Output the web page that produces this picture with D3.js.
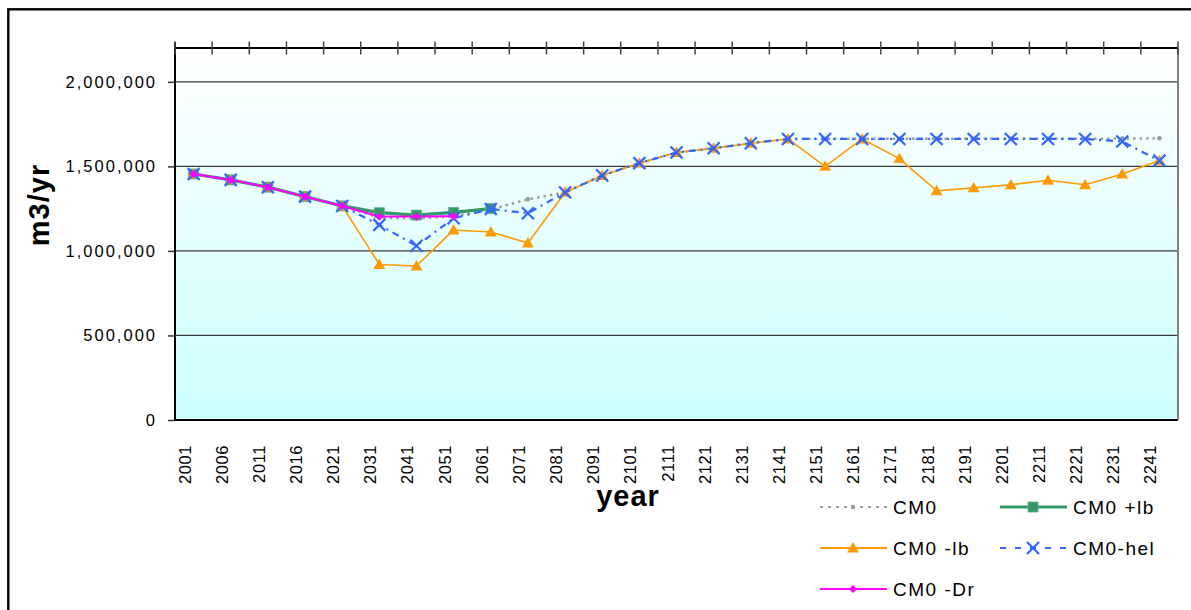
<!DOCTYPE html>
<html>
<head>
<meta charset="utf-8">
<script src="https://cdn.jsdelivr.net/npm/d3@7"></script>
<style>
    html, body { margin: 0; padding: 0; background: #ffffff; }
    #chart-flow { width: 1191px; height: 610px; overflow: hidden; }
    text { font-family: "Liberation Sans", Arial, sans-serif; fill: #000; }
</style>
</head>
<body>
<div id="chart-flow"></div>
<script>
(function () {

    var YEARS = ["2001", "2006", "2011", "2016", "2021", "2031", "2041", "2051", "2061",
                 "2071", "2081", "2091", "2101", "2111", "2121", "2131", "2141", "2151",
                 "2161", "2171", "2181", "2191", "2201", "2211", "2221", "2231", "2241"];

    var Y_TICKS = [0, 500000, 1000000, 1500000, 2000000];

    var CM0 = [1455000, 1420000, 1377000, 1321000, 1266000, 1197000, 1192000, 1205000, 1245000,
               1305000, 1346000, 1446000, 1519000, 1582000, 1607000, 1637000, 1662000, 1663000,
               1663000, 1663000, 1663000, 1663000, 1663000, 1663000, 1663000, 1664000, 1666000];

    var CM0_PLUS_LB = [1455000, 1420000, 1377000, 1321000, 1266000, 1226000, 1212000, 1228000, 1250000,
                       null, null, null, null, null, null, null, null, null,
                       null, null, null, null, null, null, null, null, null];

    var CM0_MINUS_LB = [1455000, 1420000, 1377000, 1321000, 1266000, 920000, 911000, 1124000, 1112000,
                        1047000, 1346000, 1446000, 1519000, 1582000, 1607000, 1637000, 1662000, 1500000,
                        1662000, 1546000, 1356000, 1373000, 1391000, 1418000, 1391000, 1455000, 1534000];

    var CM0_HEL = [1455000, 1420000, 1377000, 1321000, 1266000, 1154000, 1030000, 1193000, 1248000,
                   1223000, 1346000, 1446000, 1519000, 1582000, 1607000, 1637000, 1662000, 1662000,
                   1662000, 1662000, 1662000, 1662000, 1662000, 1662000, 1662000, 1647000, 1534000];

    var CM0_DR = [1455000, 1420000, 1377000, 1321000, 1266000, 1203000, 1203000, 1205000, null,
                  null, null, null, null, null, null, null, null, null,
                  null, null, null, null, null, null, null, null, null];

    // drawing order = Excel series order (last on top)
    var SERIES = [
        { name: "CM0",     values: CM0,          color: "#999999", width: 2.4, dash: "2.5,4",   marker: "dot"      },
        { name: "CM0 +lb", values: CM0_PLUS_LB,  color: "#339966", width: 3.2, dash: null,      marker: "square"   },
        { name: "CM0 -lb", values: CM0_MINUS_LB, color: "#FF9900", width: 1.6, dash: null,      marker: "triangle" },
        { name: "CM0-hel", values: CM0_HEL,      color: "#3366FF", width: 2.2, dash: "7,5,2,5", marker: "x"        },
        { name: "CM0 -Dr", values: CM0_DR,       color: "#FF00FF", width: 2,   dash: null,      marker: "diamond"  }
    ];

    var W = 1191, H = 610;
    var plot = { left: 175, right: 1178, top: 48, bottom: 420 };

    var svg = d3.select("#chart-flow")
        .append("svg")
        .attr("width", W)
        .attr("height", H);

    /* ── background + frame ───────────────────────────────────────── */
    var grad = svg.append("defs").append("linearGradient")
        .attr("id", "plot-bg")
        .attr("x1", 0).attr("y1", 0).attr("x2", 0).attr("y2", 1);
    grad.append("stop").attr("offset", "0%").attr("stop-color", "#ffffff");
    grad.append("stop").attr("offset", "100%").attr("stop-color", "#ccffff");

    // outer chart border (cut off on the right and bottom)
    svg.append("rect")
        .attr("x", 8.3).attr("y", 9.3)
        .attr("width", W + 20).attr("height", H + 20)
        .attr("fill", "none")
        .attr("stroke", "#000")
        .attr("stroke-width", 2.4);

    svg.append("rect")
        .attr("x", plot.left).attr("y", plot.top)
        .attr("width", plot.right - plot.left)
        .attr("height", plot.bottom - plot.top)
        .attr("fill", "url(#plot-bg)");

    /* ── scales ───────────────────────────────────────────────────── */
    var x = d3.scaleBand()
        .domain(YEARS)
        .range([plot.left, plot.right])
        .padding(0);

    var y = d3.scaleLinear()
        .domain([0, 2200000])
        .range([plot.bottom, plot.top]);

    function cx(i) { return x(YEARS[i]) + x.bandwidth() / 2; }

    /* ── gridlines ────────────────────────────────────────────────── */
    svg.append("g")
        .selectAll("line")
        .data(Y_TICKS)
        .enter()
        .append("line")
        .attr("x1", plot.left).attr("x2", plot.right)
        .attr("y1", function (d) { return y(d); })
        .attr("y2", function (d) { return y(d); })
        .attr("stroke", function (d) { return d === 0 ? "#000" : "#3a3a3a"; })
        .attr("stroke-width", function (d) { return d === 0 ? 2 : 1.2; });

    // right border of the plot area
    svg.append("line")
        .attr("x1", plot.right).attr("x2", plot.right)
        .attr("y1", plot.top).attr("y2", plot.bottom)
        .attr("stroke", "#808080")
        .attr("stroke-width", 2);

    /* ── y axis ───────────────────────────────────────────────────── */
    var yAxis = svg.append("g")
        .attr("class", "axis axis-y")
        .attr("transform", "translate(" + plot.left + ",0)")
        .call(d3.axisLeft(y)
            .tickValues(Y_TICKS)
            .tickSize(7)
            .tickPadding(11)
            .tickFormat(d3.format(",")));

    yAxis.select(".domain")
        .attr("d", "M0," + (plot.top - 6) + "V" + plot.bottom)
        .attr("stroke", "#000")
        .attr("stroke-width", 2);
    yAxis.selectAll(".tick line")
        .attr("stroke", "#333")
        .attr("stroke-width", 1.5);
    yAxis.selectAll(".tick text")
        .style("font-size", "16.5px")
        .style("letter-spacing", "2px")
        .attr("fill", "#111");

    /* ── category axis (line + crossing ticks at the top) ─────────── */
    var edges = YEARS.map(function (c) { return x(c); }).concat([x.range()[1]]);

    svg.append("line")
        .attr("x1", plot.left).attr("x2", plot.right)
        .attr("y1", plot.top).attr("y2", plot.top)
        .attr("stroke", "#000")
        .attr("stroke-width", 2);

    svg.append("g")
        .selectAll("line")
        .data(edges)
        .enter()
        .append("line")
        .attr("x1", function (d) { return d; })
        .attr("x2", function (d) { return d; })
        .attr("y1", plot.top - 6.5)
        .attr("y2", plot.top + 6.5)
        .attr("stroke", "#444")
        .attr("stroke-width", 1.5);

    // tick labels sit below the plot, rotated
    var xAxis = svg.append("g")
        .attr("class", "axis axis-x")
        .attr("transform", "translate(0," + plot.bottom + ")")
        .call(d3.axisBottom(x).tickSize(0));

    xAxis.select(".domain").remove();
    xAxis.selectAll(".tick text")
        .attr("transform", "rotate(-90)")
        .attr("x", -25)
        .attr("y", -3)
        .attr("dy", 0)
        .attr("text-anchor", "end")
        .attr("fill", "#111")
        .style("font-size", "16.5px")
        .style("letter-spacing", "0.6px");

    /* ── axis titles ──────────────────────────────────────────────── */
    svg.append("text")
        .attr("transform", "translate(49,205) rotate(-90)")
        .attr("text-anchor", "middle")
        .style("font-size", "29px")
        .style("font-weight", "bold")
        .style("letter-spacing", "1px")
        .text("m3/yr");

    svg.append("text")
        .attr("x", 628).attr("y", 506)
        .attr("text-anchor", "middle")
        .style("font-size", "29px")
        .style("font-weight", "bold")
        .style("letter-spacing", "1px")
        .text("year");

    /* ── markers ──────────────────────────────────────────────────── */
    function drawMarker(g, s, px, py) {
        if (s.marker === "dot") {
            g.append("circle").attr("cx", px).attr("cy", py).attr("r", 2.3).attr("fill", s.color);
        } else if (s.marker === "square") {
            g.append("path")
                .attr("d", d3.symbol().type(d3.symbolSquare).size(100)())
                .attr("transform", "translate(" + px + "," + py + ")")
                .attr("fill", s.color)
                .attr("stroke", "#5fb08a").attr("stroke-width", 0.8);
        } else if (s.marker === "triangle") {
            g.append("path")
                .attr("d", d3.symbol().type(d3.symbolTriangle).size(62)())
                .attr("transform", "translate(" + px + "," + (py + 1) + ")")
                .attr("fill", s.color);
        } else if (s.marker === "x") {
            var r = 6;
            g.append("path")
                .attr("d", "M" + (-r) + "," + (-r) + "L" + r + "," + r + "M" + (-r) + "," + r + "L" + r + "," + (-r))
                .attr("transform", "translate(" + px + "," + py + ")")
                .attr("stroke", s.color)
                .attr("stroke-width", 2.2)
                .attr("fill", "none");
        } else if (s.marker === "diamond") {
            g.append("path")
                .attr("d", d3.symbol().type(d3.symbolSquare).size(34)())
                .attr("transform", "translate(" + px + "," + py + ") rotate(45)")
                .attr("fill", s.color);
        }
    }

    /* ── series ───────────────────────────────────────────────────── */
    var line = d3.line()
        .defined(function (d) { return d != null; })
        .x(function (d, i) { return cx(i); })
        .y(function (d) { return y(d); });

    SERIES.forEach(function (s) {
        var g = svg.append("g").attr("class", "series");
        g.append("path")
            .datum(s.values)
            .attr("d", line)
            .attr("fill", "none")
            .attr("stroke", s.color)
            .attr("stroke-width", s.width)
            .attr("stroke-dasharray", s.dash)
            .attr("stroke-linejoin", "round");
        s.values.forEach(function (v, i) {
            if (v == null) return;
            drawMarker(g, s, cx(i), y(v));
        });
    });

    /* ── legend ───────────────────────────────────────────────────── */
    var LEGEND_POS = [
        { x: 820,  y: 507 },
        { x: 1000, y: 507 },
        { x: 820,  y: 548 },
        { x: 1000, y: 548 },
        { x: 820,  y: 589 }
    ];

    SERIES.forEach(function (s, i) {
        var p = LEGEND_POS[i];
        var g = svg.append("g").attr("class", "legend-item");
        g.append("line")
            .attr("x1", p.x).attr("x2", p.x + 67)
            .attr("y1", p.y).attr("y2", p.y)
            .attr("stroke", s.color)
            .attr("stroke-width", s.marker === "square" ? 3.2 : 2)
            .attr("stroke-dasharray", s.marker === "dot" ? "3,5" : (s.marker === "x" ? "6,9" : null));
        drawMarker(g, s, p.x + 33, p.y);
        g.append("text")
            .attr("x", p.x + 73)
            .attr("y", p.y + 7)
            .style("font-size", "19px")
            .style("letter-spacing", "1.5px")
            .text(s.name);
    });

}());
</script>
</body>
</html>
